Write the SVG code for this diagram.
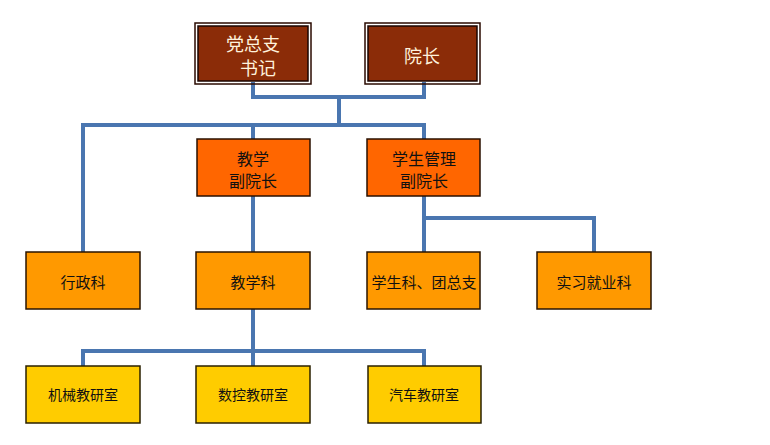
<svg xmlns="http://www.w3.org/2000/svg" width="770" height="445" viewBox="0 0 770 445">
<style>
text{font-family:"Noto Sans CJK SC","Noto Sans",sans-serif;text-anchor:middle;dominant-baseline:central}
.top rect.o{fill:none;stroke:#2a0a00;stroke-width:1.5}
.top rect.i{fill:#8B2C08;stroke:#1a0500;stroke-width:1.5}
.top text{fill:#FFF2DC;font-size:18px}
.mid rect{fill:#FF6600;stroke:#2a1000;stroke-width:1.5}
.mid text{fill:#111;font-size:16px}
.dep rect{fill:#FF9900;stroke:#2a1500;stroke-width:1.5}
.dep text{fill:#111;font-size:15px}
.sec rect{fill:#FFCC00;stroke:#2a2000;stroke-width:1.5}
.sec text{fill:#111;font-size:14px}
.conn path{fill:none;stroke:#4A76B0;stroke-width:4}
</style>
<rect width="770" height="445" fill="#fff"/>
<g class="conn">
<path d="M253 82V97H424V82"/>
<path d="M339 97V125"/>
<path d="M83 252V125H424V139"/>
<path d="M253 125V139"/>
<path d="M253 196V252"/>
<path d="M424 196V252"/>
<path d="M424 218H594V252"/>
<path d="M253 309V351"/>
<path d="M83 366V351H424V366"/>
<path d="M253 351V366"/>
</g>
<g id="n1" class="top"><rect class="o" x="195" y="23" width="116" height="61"/><rect class="i" x="198" y="26" width="110" height="55"/><text x="253" y="43">党总支</text><text x="258" y="67">书记</text></g>
<g id="n2" class="top"><rect class="o" x="365" y="23" width="115" height="61"/><rect class="i" x="368" y="26" width="109" height="55"/><text x="422" y="55">院长</text></g>
<g id="n3" class="mid"><rect x="197" y="139" width="113" height="57"/><text x="253" y="158">教学</text><text x="253" y="180">副院长</text></g>
<g id="n4" class="mid"><rect x="367" y="139" width="113" height="57"/><text x="424" y="158">学生管理</text><text x="424" y="180">副院长</text></g>
<g id="n5" class="dep"><rect x="26" y="252" width="114" height="57"/><text x="83" y="281">行政科</text></g>
<g id="n6" class="dep"><rect x="196" y="252" width="114" height="57"/><text x="253" y="281">教学科</text></g>
<g id="n7" class="dep"><rect x="367" y="252" width="113" height="57"/><text x="424" y="281">学生科、团总支</text></g>
<g id="n8" class="dep"><rect x="537" y="252" width="114" height="57"/><text x="594" y="281">实习就业科</text></g>
<g id="n9" class="sec"><rect x="26" y="366" width="114" height="57"/><text x="83" y="394">机械教研室</text></g>
<g id="n10" class="sec"><rect x="196" y="366" width="114" height="57"/><text x="253" y="394">数控教研室</text></g>
<g id="n11" class="sec"><rect x="368" y="366" width="113" height="57"/><text x="424" y="394">汽车教研室</text></g>
</svg>
